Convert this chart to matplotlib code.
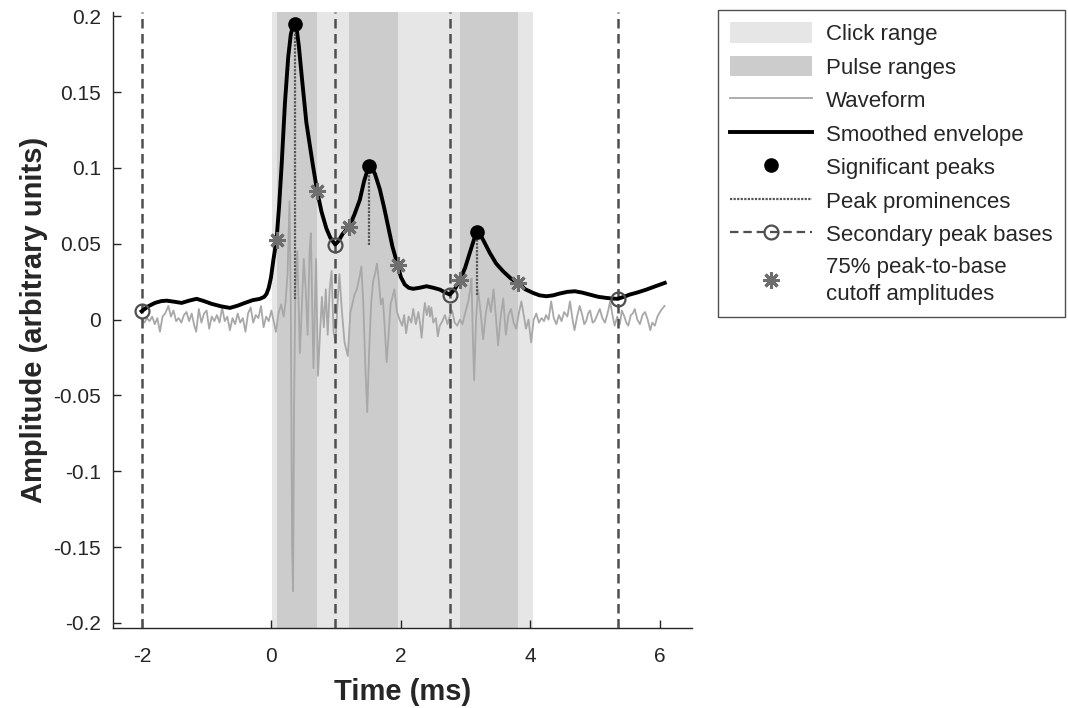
"""
Click envelope figure: waveform, smoothed envelope, significant peaks,
their prominences, secondary peak bases and 75% cutoff amplitudes.
"""

import matplotlib

matplotlib.use("Agg")
import matplotlib.pyplot as plt
from matplotlib.lines import Line2D
from matplotlib.patches import Patch

plt.rcParams["font.family"] = ["Liberation Sans", "DejaVu Sans"]
plt.rcParams["axes.unicode_minus"] = False

# ---- data (time in ms, amplitude in arbitrary units) ----
click_start = 0.012
click_end = 4.035
pulse_starts = [0.080, 1.200, 2.914]
pulse_ends = [0.707, 1.948, 3.809]

wave_t = [
    -2.00, -1.96, -1.92, -1.88, -1.84, -1.80, -1.76, -1.72, -1.68, -1.64,
    -1.59, -1.55, -1.51, -1.47, -1.43, -1.39, -1.35, -1.31, -1.27, -1.23,
    -1.19, -1.16, -1.12, -1.08, -1.04, -1.00, -0.96, -0.92, -0.88, -0.84,
    -0.80, -0.76, -0.72, -0.68, -0.64, -0.60, -0.56, -0.52, -0.48, -0.44,
    -0.40, -0.36, -0.32, -0.28, -0.24, -0.20, -0.16, -0.12, -0.08, -0.04,
    0.00, 0.04, 0.07, 0.11, 0.15, 0.19, 0.22, 0.25, 0.28, 0.30,
    0.32, 0.335, 0.35, 0.37, 0.40, 0.42, 0.44, 0.47, 0.50, 0.53,
    0.56, 0.59, 0.61, 0.63, 0.65, 0.67, 0.69, 0.72, 0.75, 0.78,
    0.81, 0.84, 0.87, 0.90, 0.93, 0.96, 0.99, 1.02, 1.05, 1.09,
    1.13, 1.18, 1.22, 1.25, 1.28, 1.32, 1.36, 1.39, 1.42, 1.45,
    1.48, 1.51, 1.54, 1.57, 1.60, 1.63, 1.66, 1.69, 1.72, 1.75,
    1.78, 1.81, 1.84, 1.87, 1.90, 1.94, 1.98, 2.02, 2.05, 2.08,
    2.12, 2.16, 2.19, 2.23, 2.27, 2.30, 2.32, 2.35, 2.37, 2.40,
    2.43, 2.45, 2.47, 2.50, 2.54, 2.57, 2.60, 2.64, 2.68, 2.72,
    2.76, 2.79, 2.83, 2.87, 2.91, 2.95, 2.99, 3.04, 3.07, 3.09,
    3.11, 3.13, 3.16, 3.19, 3.23, 3.27, 3.31, 3.35, 3.39, 3.43,
    3.47, 3.50, 3.54, 3.58, 3.62, 3.66, 3.70, 3.74, 3.78, 3.82,
    3.86, 3.90, 3.93, 3.97, 4.01, 4.05, 4.09, 4.13, 4.17, 4.21,
    4.24, 4.28, 4.32, 4.36, 4.40, 4.44, 4.48, 4.52, 4.57, 4.61,
    4.65, 4.68, 4.72, 4.76, 4.80, 4.83, 4.86, 4.89, 4.92, 4.96,
    4.99, 5.03, 5.07, 5.11, 5.15, 5.19, 5.23, 5.27, 5.30, 5.34,
    5.38, 5.41, 5.45, 5.48, 5.51, 5.55, 5.58, 5.61, 5.65, 5.69,
    5.73, 5.77, 5.81, 5.85, 5.88, 5.92, 5.96, 6.00, 6.03, 6.07,
]
wave_amp = [
    0.000, -0.002, 0.001, -0.001, 0.002, -0.003, 0.001, -0.008, 0.002, 0.004,
    0.009, 0.002, 0.006, -0.001, 0.001, -0.002, 0.003, 0.005, -0.001, 0.004,
    -0.004, -0.008, 0.007, -0.002, 0.004, 0.006, -0.006, 0.002, -0.001, 0.003,
    -0.002, 0.008, -0.001, 0.002, -0.007, 0.001, -0.003, 0.004, -0.002, 0.001,
    -0.008, 0.004, 0.008, -0.002, 0.003, 0.001, 0.009, -0.005, 0.002, -0.001,
    0.006, -0.002, -0.008, 0.004, 0.010, 0.002, 0.012, 0.030, 0.078, 0.010,
    -0.150, -0.179, -0.060, 0.020, 0.045, 0.010, -0.022, 0.008, 0.040, 0.020,
    -0.010, 0.045, 0.057, 0.010, -0.032, 0.005, 0.040, -0.037, -0.010, 0.015,
    -0.005, 0.020, -0.010, 0.020, 0.032, -0.008, -0.015, 0.010, 0.030, 0.005,
    -0.015, -0.024, 0.005, 0.010, 0.016, 0.020, 0.028, 0.035, 0.010, -0.030,
    -0.061, -0.020, 0.010, 0.025, 0.030, 0.037, 0.025, 0.010, 0.014, -0.005,
    -0.028, -0.010, 0.010, 0.015, 0.020, 0.005, 0.000, -0.004, 0.003, -0.009,
    0.002, -0.002, 0.007, -0.003, 0.005, -0.004, -0.012, 0.004, 0.011, 0.003,
    0.009, 0.002, 0.008, -0.002, 0.001, -0.011, -0.004, -0.001, 0.003, -0.003,
    0.003, 0.006, -0.002, -0.004, 0.000, -0.003, 0.004, 0.012, 0.020, 0.027,
    -0.010, -0.040, 0.000, 0.020, 0.005, -0.013, 0.004, 0.014, 0.005, 0.020,
    0.000, -0.017, 0.002, 0.014, -0.010, 0.003, 0.007, -0.002, -0.006, 0.004,
    0.012, 0.002, -0.006, 0.000, -0.015, 0.000, 0.004, -0.002, 0.001, -0.001,
    0.003, 0.000, 0.012, 0.001, -0.003, 0.003, -0.001, 0.005, 0.002, 0.012,
    0.000, -0.007, 0.002, 0.009, 0.003, -0.003, -0.001, 0.004, 0.006, -0.002,
    -0.001, 0.003, 0.007, 0.001, -0.002, 0.004, 0.012, 0.002, -0.004, 0.002,
    -0.003, 0.006, 0.002, -0.002, -0.004, 0.003, 0.004, 0.007, 0.000, -0.003,
    0.003, 0.005, 0.000, -0.007, -0.002, -0.004, 0.002, 0.005, 0.007, 0.009,
]

env_t = [
    -2.003, -1.900, -1.798, -1.700, -1.617, -1.500, -1.386, -1.270, -1.154, -1.040,
    -0.923, -0.780, -0.640, -0.520, -0.409, -0.290, -0.177, -0.110, -0.074, -0.040,
    -0.005, 0.030, 0.080, 0.120, 0.160, 0.210, 0.260, 0.300, 0.335, 0.363,
    0.390, 0.425, 0.470, 0.540, 0.640, 0.707, 0.775, 0.850, 0.910, 0.985,
    1.040, 1.100, 1.200, 1.280, 1.366, 1.430, 1.480, 1.515, 1.550, 1.600,
    1.674, 1.740, 1.802, 1.870, 1.948, 2.000, 2.060, 2.120, 2.188, 2.290,
    2.395, 2.500, 2.600, 2.680, 2.755, 2.830, 2.914, 2.990, 3.063, 3.130,
    3.182, 3.220, 3.264, 3.372, 3.470, 3.577, 3.700, 3.809, 3.920, 4.040,
    4.140, 4.247, 4.350, 4.452, 4.570, 4.684, 4.800, 4.915, 5.050, 5.173,
    5.260, 5.347, 5.440, 5.532, 5.660, 5.790, 5.930, 6.073,
]
env_amp = [
    0.0055, 0.0088, 0.0110, 0.0122, 0.0125, 0.0118, 0.0110, 0.0125, 0.0137, 0.0122,
    0.0104, 0.0088, 0.0077, 0.0092, 0.0110, 0.0128, 0.0137, 0.0150, 0.0170, 0.0210,
    0.0280, 0.0390, 0.0527, 0.0750, 0.1030, 0.1430, 0.1730, 0.1880, 0.1940, 0.1950,
    0.1920, 0.1800, 0.1600, 0.1300, 0.1020, 0.0847, 0.0710, 0.0600, 0.0540, 0.0495,
    0.0520, 0.0565, 0.0612, 0.0690, 0.0790, 0.0910, 0.0980, 0.1010, 0.1000, 0.0960,
    0.0860, 0.0740, 0.0616, 0.0480, 0.0363, 0.0280, 0.0231, 0.0210, 0.0203, 0.0210,
    0.0220, 0.0210, 0.0198, 0.0180, 0.0165, 0.0200, 0.0264, 0.0340, 0.0440, 0.0530,
    0.0577, 0.0560, 0.0530, 0.0440, 0.0370, 0.0319, 0.0270, 0.0242, 0.0200, 0.0176,
    0.0160, 0.0154, 0.0160, 0.0172, 0.0183, 0.0187, 0.0178, 0.0165, 0.0150, 0.0143,
    0.0139, 0.0137, 0.0150, 0.0165, 0.0180, 0.0198, 0.0220, 0.0242,
]

peak_t = [0.363, 1.515, 3.182]
peak_amp = [0.195, 0.101, 0.0577]
prom_floor_amp = [0.0137, 0.0495, 0.0165]

base_t = [-2.003, 0.985, 2.755, 5.347]
base_amp = [0.0055, 0.0495, 0.0165, 0.0137]

cutoff_t = [0.080, 0.707, 1.200, 1.948, 2.914, 3.809]
cutoff_amp = [0.0527, 0.0847, 0.0612, 0.0363, 0.0264, 0.0242]

y_ticks = [-0.2, -0.15, -0.1, -0.05, 0, 0.05, 0.1, 0.15, 0.2]
y_tick_labels = ["-0.2", "-0.15", "-0.1", "-0.05", "0", "0.05", "0.1", "0.15", "0.2"]
x_ticks = [-2, 0, 2, 4, 6]

# ---- styles ----
CLICK_COLOR = "#e6e6e6"
PULSE_COLOR = "#cccccc"
WAVE_COLOR = "#a8a8a8"
BASE_COLOR = "#4f4f4f"
STAR_COLOR = "#6e6e6e"
PROM_COLOR = "#555555"
TEXT_COLOR = "#262626"
ASTERISK = (8, 2, 0)
DASHES = (0, (3.8, 2.2))


def main():
    fig = plt.figure(figsize=(10.68, 7.08), dpi=100)
    ax = fig.add_axes([0.1061, 0.1130, 0.5416, 0.8705])

    # shaded click and pulse ranges
    ax.axvspan(click_start, click_end, color=CLICK_COLOR, lw=0, zorder=0)
    for start, end in zip(pulse_starts, pulse_ends):
        ax.axvspan(start, end, color=PULSE_COLOR, lw=0, zorder=0.5)

    ax.plot(wave_t, wave_amp, color=WAVE_COLOR, lw=1.3, zorder=2)

    # secondary peak bases: vertical dashed markers through each base
    for t in base_t:
        ax.axvline(t, color=BASE_COLOR, lw=1.8, linestyle=DASHES, zorder=3)

    ax.plot(env_t, env_amp, color="black", lw=2.8, zorder=4,
            solid_joinstyle="round")

    for t, top, floor in zip(peak_t, peak_amp, prom_floor_amp):
        ax.plot([t, t], [floor, top], color=PROM_COLOR, lw=1.6,
                linestyle=(0, (1, 0.6)), zorder=5)

    ax.plot(base_t, base_amp, linestyle="none", marker="o", markersize=10,
            markerfacecolor="none", markeredgecolor=BASE_COLOR,
            markeredgewidth=1.6, zorder=6)
    ax.plot(cutoff_t, cutoff_amp, linestyle="none", marker=ASTERISK,
            markersize=12, markeredgewidth=2.2, color=STAR_COLOR, zorder=6)
    ax.plot(peak_t, peak_amp, linestyle="none", marker="o", markersize=9.5,
            color="black", zorder=7)

    ax.set_xlim(-2.44, 6.49)
    ax.set_ylim(-0.2033, 0.203)
    ax.set_xticks(x_ticks)
    ax.set_xticklabels([str(v) for v in x_ticks])
    ax.set_yticks(y_ticks)
    ax.set_yticklabels(y_tick_labels)
    ax.tick_params(direction="in", length=6, width=1.0, labelsize=15,
                   colors=TEXT_COLOR)
    ax.tick_params(axis="x", pad=14)
    ax.tick_params(axis="y", pad=9)
    for side in ("top", "right"):
        ax.spines[side].set_visible(False)
    for side in ("left", "bottom"):
        ax.spines[side].set_color(TEXT_COLOR)
        ax.spines[side].set_linewidth(1.0)

    ax.set_xlabel("Time (ms)", fontsize=21, fontweight="bold",
                  color=TEXT_COLOR, labelpad=8)
    ax.set_ylabel("Amplitude (arbitrary units)", fontsize=21,
                  fontweight="bold", color=TEXT_COLOR, labelpad=4)

    handles = [
        Patch(facecolor=CLICK_COLOR, edgecolor="none"),
        Patch(facecolor=PULSE_COLOR, edgecolor="none"),
        Line2D([], [], color=WAVE_COLOR, lw=1.3),
        Line2D([], [], color="black", lw=2.8),
        Line2D([], [], linestyle="none", marker="o", markersize=9.5,
               color="black"),
        Line2D([], [], color=PROM_COLOR, lw=1.6, linestyle=(0, (1, 0.6))),
        Line2D([], [], color=BASE_COLOR, lw=1.6, linestyle=DASHES,
               marker="o", markersize=10, markerfacecolor="none",
               markeredgewidth=1.6),
        Line2D([], [], linestyle="none", marker=ASTERISK, markersize=12,
               markeredgewidth=2.2, color=STAR_COLOR),
    ]
    labels = [
        "Click range",
        "Pulse ranges",
        "Waveform",
        "Smoothed envelope",
        "Significant peaks",
        "Peak prominences",
        "Secondary peak bases",
        "75% peak-to-base\ncutoff amplitudes",
    ]
    leg = fig.legend(
        handles, labels,
        loc="upper left",
        bbox_to_anchor=(718 / 1068, 1 - 10 / 708),
        fontsize=16,
        frameon=True,
        fancybox=False,
        edgecolor=TEXT_COLOR,
        handlelength=3.7,
        handleheight=1.05,
        handletextpad=0.6,
        labelspacing=0.48,
        borderpad=0.55,
        borderaxespad=0,
        numpoints=1,
    )
    leg.get_frame().set_linewidth(1.0)
    for text in leg.get_texts():
        text.set_color(TEXT_COLOR)
        text.set_linespacing(1.38)

    fig.savefig("out.png", dpi=100)


if __name__ == "__main__":
    main()
